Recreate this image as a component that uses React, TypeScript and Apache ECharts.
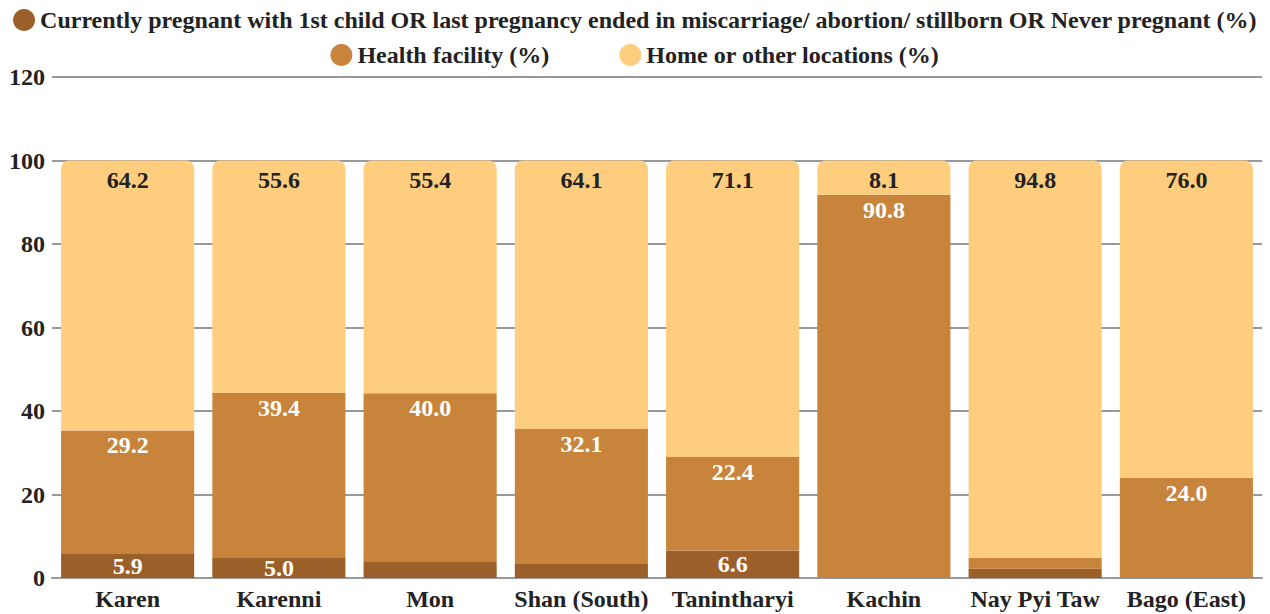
import React, { useEffect, useRef } from "react";
import * as echarts from "echarts";

const categories = ["Karen", "Karenni", "Mon", "Shan (South)", "Tanintharyi", "Kachin", "Nay Pyi Taw", "Bago (East)"];
const seriesNames = [
  "Currently pregnant with 1st child OR last pregnancy ended in miscarriage/ abortion/ stillborn OR Never pregnant (%)",
  "Health facility (%)",
  "Home or other locations (%)",
];
const notPregnant = [5.9, 5.0, 4.0, 3.5, 6.6, 0, 2.2, 0];
const healthFacility = [29.2, 39.4, 40.0, 32.1, 22.4, 90.8, 2.6, 24.0];
const homeOther = [64.2, 55.6, 55.4, 64.1, 71.1, 8.1, 94.8, 76.0];
const yTicks = { min: 0, max: 120, interval: 20 };

const colors = ["#9B5F2A", "#C8843A", "#FECD7D"];
const FONT = "'Liberation Serif', 'Times New Roman', serif";

export default function App() {
  const ref = useRef<HTMLDivElement>(null);
  useEffect(() => {
    if (!ref.current) return;
    const chart = echarts.init(ref.current, undefined, { renderer: "svg" });
    const raws = [notPregnant, healthFacility, homeOther];
    const totals = categories.map((_, i) => raws.reduce((s, a) => s + a[i], 0));
    const norm = (arr: number[]) => arr.map((v, i) => (v / totals[i]) * 100);
    const labelCfg = [
      { position: "inside", color: "#ffffff", distance: 0 },
      { position: "insideTop", color: "#ffffff", distance: 3 },
      { position: "insideTop", color: "#222222", distance: 7 },
    ];
    const series = raws.map((raw, k) => ({
      name: seriesNames[k],
      type: "bar",
      stack: "total",
      barWidth: "88%",
      data: norm(raw),
      itemStyle: {
        color: colors[k],
        borderRadius: k === 2 ? [8, 8, 0, 0] : 0,
      },
      label: {
        show: true,
        position: labelCfg[k].position,
        distance: labelCfg[k].distance,
        color: labelCfg[k].color,
        fontFamily: FONT,
        fontWeight: "bold",
        fontSize: 24,
        formatter: (p: any) => (raw[p.dataIndex] >= 5 ? raw[p.dataIndex].toFixed(1) : ""),
      },
    }));
    const legendText = { fontFamily: FONT, fontWeight: "bold", fontSize: 24, color: "#222222" };
    chart.setOption({
      animation: false,
      color: colors,
      legend: [
        {
          data: [seriesNames[0]],
          top: 3,
          left: "center",
          icon: "circle",
          itemWidth: 22,
          itemHeight: 22,
          textStyle: legendText,
        },
        {
          data: [seriesNames[1], seriesNames[2]],
          top: 38,
          left: "center",
          icon: "circle",
          itemWidth: 22,
          itemHeight: 22,
          itemGap: 70,
          textStyle: legendText,
        },
      ],
      grid: { left: 52, right: 8, top: 77, bottom: 36, containLabel: false, outerBoundsMode: "none" },
      xAxis: {
        type: "category",
        data: categories,
        axisTick: { show: false },
        axisLine: { lineStyle: { color: "#999999", width: 2 } },
        axisLabel: { interval: 0, color: "#222222", fontFamily: FONT, fontWeight: "bold", fontSize: 24, margin: 9 },
      },
      yAxis: {
        type: "value",
        min: yTicks.min,
        max: yTicks.max,
        interval: yTicks.interval,
        axisLine: { show: false },
        axisTick: { show: false },
        splitLine: { lineStyle: { color: "#777777", width: 1.5 } },
        axisLabel: { color: "#222222", fontFamily: FONT, fontWeight: "bold", fontSize: 24, margin: 7 },
      },
      series,
    });
    return () => chart.dispose();
  }, []);
  return <div ref={ref} style={{ position: "absolute", left: 0, top: 0, width: 1270, height: 614 }} />;
}
